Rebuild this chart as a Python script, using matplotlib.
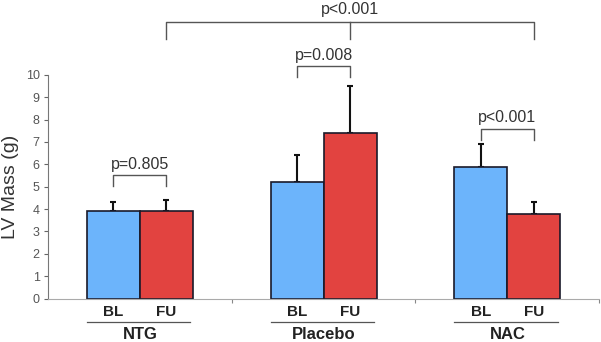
import matplotlib.pyplot as plt
import numpy as np

plt.rcParams['font.family'] = ['Liberation Sans', 'DejaVu Sans']

# data
groups = ["NTG", "Placebo", "NAC"]
bl_mean = [3.9, 5.2, 5.9]
bl_err = [0.4, 1.2, 1.0]
fu_mean = [3.9, 7.4, 3.8]
fu_err = [0.5, 2.1, 0.5]
p_within = ["p=0.805", "p=0.008", "p<0.001"]
p_between = "p<0.001"
yticks = list(range(0, 11))

blue = "#6cb4fb"
red = "#e24340"
w = 0.288

fig = plt.figure(figsize=(6.01, 3.42), dpi=100)
ax = fig.add_axes([0.080, 0.127, 0.917, 0.654])

x = np.arange(len(groups))
xb = x - w / 2
xf = x + w / 2

ax.bar(xb, bl_mean, w, color=blue, edgecolor="#1a1a2a", linewidth=1.2, zorder=2)
ax.bar(xf, fu_mean, w, color=red, edgecolor="#1a1a2a", linewidth=1.2, zorder=2)
# upward-only error bars
ax.errorbar(xb, bl_mean, yerr=[np.zeros(3), bl_err], fmt="none", ecolor="#111111",
            elinewidth=1.5, capsize=2, capthick=1.5, zorder=1)
ax.errorbar(xf, fu_mean, yerr=[np.zeros(3), fu_err], fmt="none", ecolor="#111111",
            elinewidth=1.5, capsize=2, capthick=1.5, zorder=1)

ax.set_xlim(-0.5, 2.5)
ax.set_ylim(0, 10)
ax.set_yticks(yticks)
ax.tick_params(axis="y", direction="out", length=3, color="#666666",
               labelcolor="#555555", labelsize=9, pad=3)
ax.set_xticks([0.5, 1.5, 2.5])
ax.set_xticklabels([])
ax.tick_params(axis="x", direction="out", length=3, color="#888888")
for s in ["top", "right"]:
    ax.spines[s].set_visible(False)
ax.spines["left"].set_color("#777777")
ax.spines["bottom"].set_color("#aaaaaa")
ax.set_ylabel("LV Mass (g)", fontsize=14, color="#333333", labelpad=5)

# BL / FU labels and group labels underneath
for i, g in enumerate(groups):
    ax.text(xb[i], -0.28, "BL", ha="center", va="top", fontsize=11,
            fontweight="bold", color="#222222", clip_on=False)
    ax.text(xf[i], -0.28, "FU", ha="center", va="top", fontsize=11,
            fontweight="bold", color="#222222", clip_on=False)
    ax.plot([x[i] - w, x[i] + w * 0.95], [-1.06, -1.06], color="#555555",
            lw=0.9, clip_on=False)
    ax.text(x[i], -1.27, g, ha="center", va="top", fontsize=12,
            fontweight="bold", color="#222222", clip_on=False)

# within-group brackets
br_y = [5.53, 10.39, 7.59]
for i in range(3):
    y0 = br_y[i]
    ax.plot([xb[i], xb[i], xf[i], xf[i]], [y0 - 0.5, y0, y0, y0 - 0.5],
            color="#555555", lw=1.0, clip_on=False)
    ax.text(x[i], y0 + 0.15, p_within[i], ha="center", va="bottom",
            fontsize=11.5, color="#333333", clip_on=False)

# between-group bracket over FU bars
yt = 12.37
ax.plot([xf[0], xf[0], xf[2], xf[2]], [yt - 0.78, yt, yt, yt - 0.78],
        color="#555555", lw=1.0, clip_on=False)
ax.plot([xf[1], xf[1]], [yt, yt - 0.78], color="#555555", lw=1.0, clip_on=False)
ax.text(xf[1], yt + 0.2, p_between, ha="center", va="bottom", fontsize=11.5,
        color="#333333", clip_on=False)

fig.savefig("out.png", dpi=100)
